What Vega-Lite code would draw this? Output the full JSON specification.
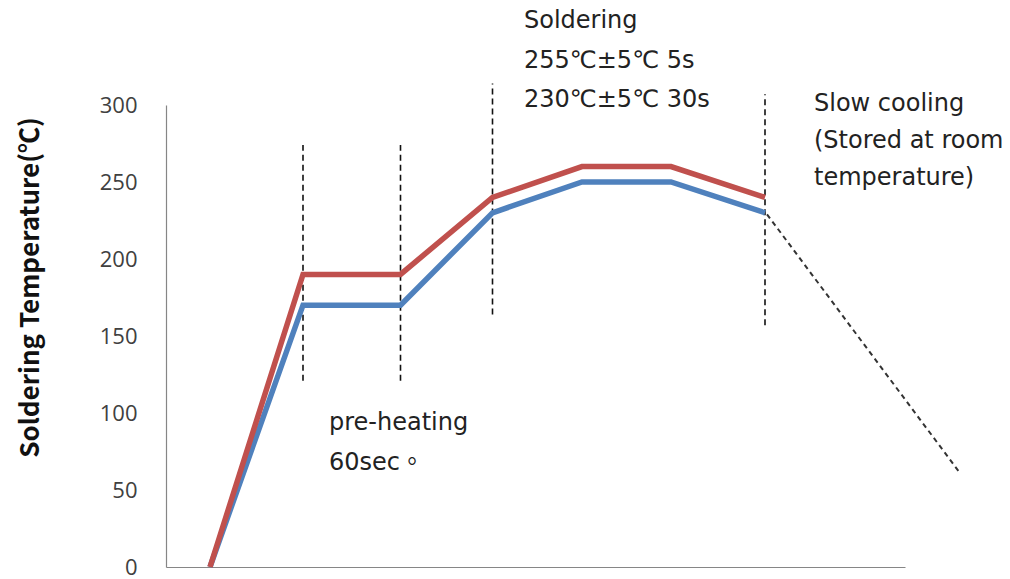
{
  "$schema": "https://vega.github.io/schema/vega-lite/v6.json",
  "autosize": {"type": "none"},
  "width": 739,
  "height": 462,
  "padding": {"left": 166, "top": 105, "right": 105, "bottom": 12},
  "background": "white",
  "config": {
    "view": {"stroke": null},
    "axisX": {"labels": false, "ticks": false, "grid": false, "domainColor": "#868686", "domainWidth": 1.2},
    "axisY": {"grid": false, "ticks": false, "tickSize": 0, "domainColor": "#868686", "domainWidth": 1.2,
      "labelFont": "Open Sans", "labelFontSize": 22, "labelColor": "#404040", "labelPadding": 29,
      "titleFont": "Noto Sans CJK SC", "titleFontWeight": "bold", "titleFontSize": 26, "titleColor": "#111111",
      "titleX": -128, "titleY": 182, "titleAngle": -90, "titleBaseline": "alphabetic", "titleAlign": "center"}
  },
  "datasets": {
    "profile": [
      {"t": 44, "temp": 0, "series": "lower"},
      {"t": 137, "temp": 170, "series": "lower"},
      {"t": 234.5, "temp": 170, "series": "lower"},
      {"t": 326.5, "temp": 230, "series": "lower"},
      {"t": 416, "temp": 250, "series": "lower"},
      {"t": 505, "temp": 250, "series": "lower"},
      {"t": 599, "temp": 230, "series": "lower"},
      {"t": 44, "temp": 0, "series": "upper"},
      {"t": 137, "temp": 190, "series": "upper"},
      {"t": 234.5, "temp": 190, "series": "upper"},
      {"t": 326.5, "temp": 240, "series": "upper"},
      {"t": 416, "temp": 260, "series": "upper"},
      {"t": 505, "temp": 260, "series": "upper"},
      {"t": 599, "temp": 240, "series": "upper"}
    ],
    "guides": [
      {"t": 137, "temp": 121, "temp_hi": 274},
      {"t": 234.5, "temp": 121, "temp_hi": 274},
      {"t": 326.5, "temp": 164, "temp_hi": 314},
      {"t": 599, "temp": 157, "temp_hi": 307}
    ],
    "cooling": [
      {"t": 601, "temp": 229},
      {"t": 794, "temp": 61}
    ],
    "notes": [
      {"t": 358, "temp": 350, "text": "Soldering"},
      {"t": 358, "temp": 324, "text": "255℃±5℃ 5s"},
      {"t": 358, "temp": 298.7, "text": "230℃±5℃ 30s"},
      {"t": 648, "temp": 296, "text": "Slow cooling"},
      {"t": 648, "temp": 272, "text": "(Stored at room"},
      {"t": 648, "temp": 248, "text": "temperature)"},
      {"t": 163, "temp": 89, "text": "pre-heating"},
      {"t": 163, "temp": 63, "text": "60sec。"}
    ]
  },
  "encoding": {
    "x": {"field": "t", "type": "quantitative", "scale": {"domain": [0, 739], "nice": false, "zero": false}, "title": null},
    "y": {"field": "temp", "type": "quantitative", "scale": {"domain": [0, 300], "nice": false},
      "title": "Soldering Temperature(℃)", "axis": {"values": [0, 50, 100, 150, 200, 250, 300]}}
  },
  "layer": [
    {
      "data": {"name": "guides"},
      "mark": {"type": "rule", "color": "#111111", "strokeWidth": 1.6, "strokeDash": [6, 4]},
      "encoding": {"y2": {"field": "temp_hi"}}
    },
    {
      "data": {"name": "cooling"},
      "mark": {"type": "line", "color": "#333333", "strokeWidth": 2, "strokeDash": [5, 4]},
      "encoding": {}
    },
    {
      "data": {"name": "profile"},
      "transform": [{"filter": "datum.series === 'lower'"}],
      "mark": {"type": "line", "color": "#4F81BD", "strokeWidth": 5.5},
      "encoding": {}
    },
    {
      "data": {"name": "profile"},
      "transform": [{"filter": "datum.series === 'upper'"}],
      "mark": {"type": "line", "color": "#C0504D", "strokeWidth": 5.5},
      "encoding": {}
    },
    {
      "data": {"name": "notes"},
      "mark": {"type": "text", "align": "left", "baseline": "alphabetic", "font": "DejaVu Sans, Noto Sans CJK TC", "fontSize": 24, "color": "#222222"},
      "encoding": {"text": {"field": "text", "type": "nominal"}}
    }
  ]
}
